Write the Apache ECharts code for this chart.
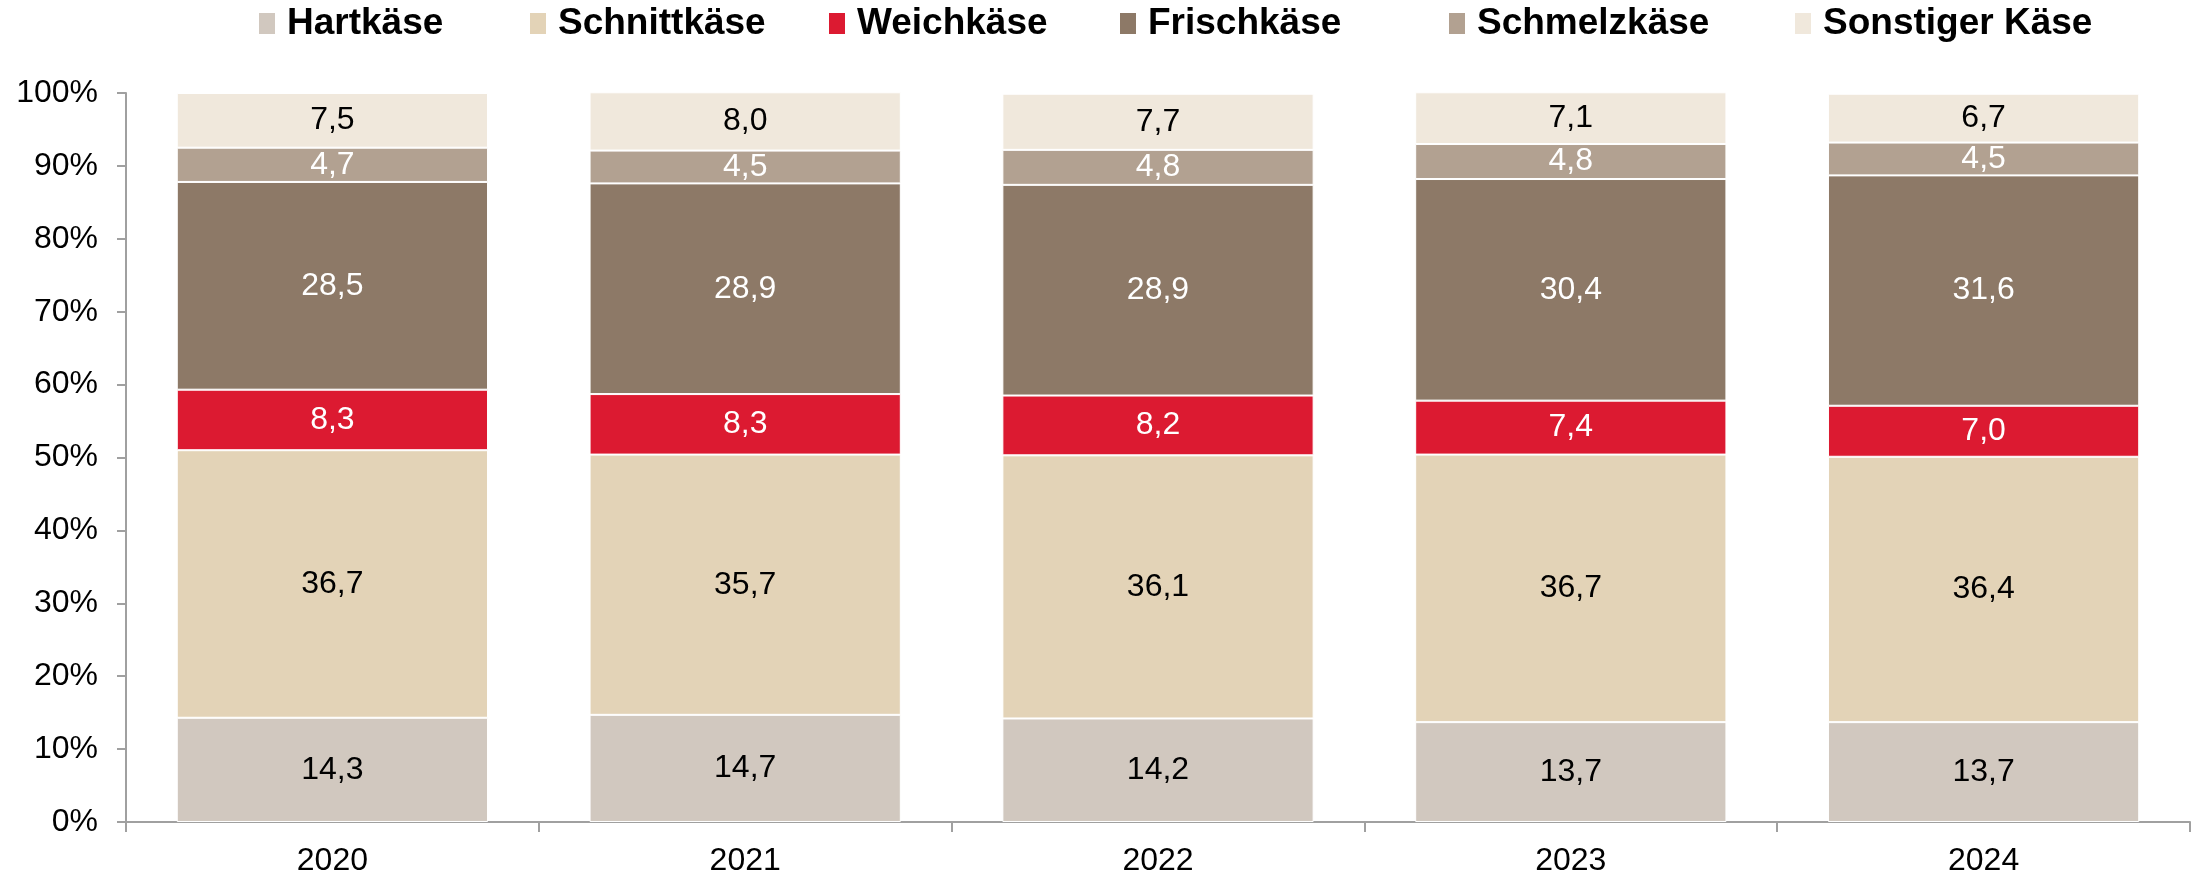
<!DOCTYPE html>
<html>
<head>
<meta charset="utf-8">
<script src="https://cdn.jsdelivr.net/npm/echarts@6/dist/echarts.min.js"></script>
<style>
  html, body { margin: 0; padding: 0; background: #fff; }
  #chart { width: 2198px; height: 877px; }
</style>
</head>
<body>
<div id="chart"></div>
<script>
  // Jahre
  const years = ['2020', '2021', '2022', '2023', '2024'];

  // Anteile in %
  const hartkaese = [14.3, 14.7, 14.2, 13.7, 13.7];
  const schnittkaese = [36.7, 35.7, 36.1, 36.7, 36.4];
  const weichkaese = [8.3, 8.3, 8.2, 7.4, 7.0];
  const frischkaese = [28.5, 28.9, 28.9, 30.4, 31.6];
  const schmelzkaese = [4.7, 4.5, 4.8, 4.8, 4.5];
  const sonstigerKaese = [7.5, 8.0, 7.7, 7.1, 6.7];

  const yTicks = [0, 10, 20, 30, 40, 50, 60, 70, 80, 90, 100];

  const seriesDefs = [
    { name: 'Hartkäse', data: hartkaese, color: '#D1C8BF', label: '#000', legendLeft: 257 },
    { name: 'Schnittkäse', data: schnittkaese, color: '#E3D3B7', label: '#000', legendLeft: 528 },
    { name: 'Weichkäse', data: weichkaese, color: '#DC1A31', label: '#fff', legendLeft: 827 },
    { name: 'Frischkäse', data: frischkaese, color: '#8D7967', label: '#fff', legendLeft: 1118 },
    { name: 'Schmelzkäse', data: schmelzkaese, color: '#B2A191', label: '#fff', legendLeft: 1447 },
    { name: 'Sonstiger Käse', data: sonstigerKaese, color: '#F0E8DC', label: '#000', legendLeft: 1793 }
  ];

  const font = 'Liberation Sans, Arial, sans-serif';
  const chart = echarts.init(document.getElementById('chart'));

  // eine Legende pro Eintrag, damit die Abstände wie im Original sitzen
  const legends = seriesDefs.map(s => ({
    data: [s.name],
    left: s.legendLeft,
    top: 5,
    padding: 0,
    itemWidth: 18,
    itemHeight: 23,
    icon: 'rect',
    selectedMode: false,
    textStyle: {
      fontFamily: font,
      fontWeight: 'bold',
      fontSize: 37,
      color: '#000',
      padding: [0, 0, 0, 6]
    }
  }));

  chart.setOption({
    animation: false,
    legend: legends,
    grid: { left: 126, right: 8, top: 93, bottom: 55, containLabel: false },
    xAxis: {
      type: 'category',
      data: years,
      axisLine: { lineStyle: { color: '#A0A0A0', width: 2 } },
      axisTick: { show: true, length: 10, lineStyle: { color: '#A0A0A0', width: 2 } },
      axisLabel: { fontFamily: font, fontSize: 32, color: '#000', margin: 23 }
    },
    yAxis: {
      type: 'value',
      min: yTicks[0],
      max: yTicks[yTicks.length - 1],
      interval: 10,
      splitLine: { show: false },
      axisLine: { show: true, lineStyle: { color: '#A0A0A0', width: 2 } },
      axisTick: { show: true, length: 9, lineStyle: { color: '#A0A0A0', width: 2 } },
      axisLabel: {
        fontFamily: font, fontSize: 32, color: '#000', margin: 28,
        formatter: v => v + '%'
      }
    },
    series: seriesDefs.map(s => ({
      name: s.name,
      type: 'bar',
      stack: 'total',
      barWidth: '75.4%',
      clip: false,
      data: s.data,
      itemStyle: { color: s.color, borderColor: '#fff', borderWidth: 1 },
      label: {
        show: true,
        position: 'inside',
        fontFamily: font,
        fontSize: 32,
        color: s.label,
        formatter: p => p.value.toFixed(1).replace('.', ',')
      }
    }))
  });
</script>
</body>
</html>
